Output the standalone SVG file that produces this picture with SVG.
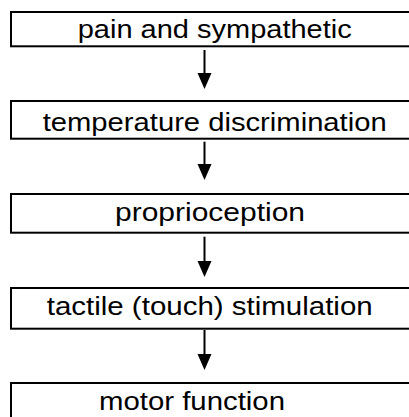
<svg xmlns="http://www.w3.org/2000/svg" width="409" height="417" viewBox="0 0 409 417">
<style>
.box{fill:#fff;stroke:#000;stroke-width:2}
.lbl{font-family:"Liberation Sans",Arial,sans-serif;font-size:26.5px;fill:#000}
.sh{stroke:#000;stroke-width:2;fill:none}
.hd{fill:#000}
</style>
<rect width="409" height="417" fill="#fff"/>
<g id="n1"><rect class="box" x="11" y="12" width="410" height="34.3"/><text class="lbl" x="77.7" y="38.3" textLength="274" lengthAdjust="spacingAndGlyphs">pain and sympathetic</text></g>
<g id="n2"><rect class="box" x="11" y="101" width="410" height="37.7"/><text class="lbl" x="42.7" y="131" textLength="344" lengthAdjust="spacingAndGlyphs">temperature discrimination</text></g>
<g id="n3"><rect class="box" x="11" y="194" width="410" height="38.7"/><text class="lbl" x="115" y="221" textLength="190" lengthAdjust="spacingAndGlyphs">proprioception</text></g>
<g id="n4"><rect class="box" x="11" y="288" width="410" height="40.7"/><text class="lbl" x="46.7" y="315" textLength="326" lengthAdjust="spacingAndGlyphs">tactile (touch) stimulation</text></g>
<g id="n5"><rect class="box" x="11" y="383" width="410" height="60"/><text class="lbl" x="99" y="410" textLength="186" lengthAdjust="spacingAndGlyphs">motor function</text></g>
<g id="connectors">
<line class="sh" x1="204.5" y1="50" x2="204.5" y2="75"/><polygon class="hd" points="197.5,73 211.5,73 204.5,89"/>
<line class="sh" x1="204.5" y1="141.7" x2="204.5" y2="166"/><polygon class="hd" points="197.5,164 211.5,164 204.5,180"/>
<line class="sh" x1="204.5" y1="236.7" x2="204.5" y2="263"/><polygon class="hd" points="197.5,261 211.5,261 204.5,277"/>
<line class="sh" x1="204.5" y1="330" x2="204.5" y2="356"/><polygon class="hd" points="197.5,354 211.5,354 204.5,370"/>
</g>
</svg>
